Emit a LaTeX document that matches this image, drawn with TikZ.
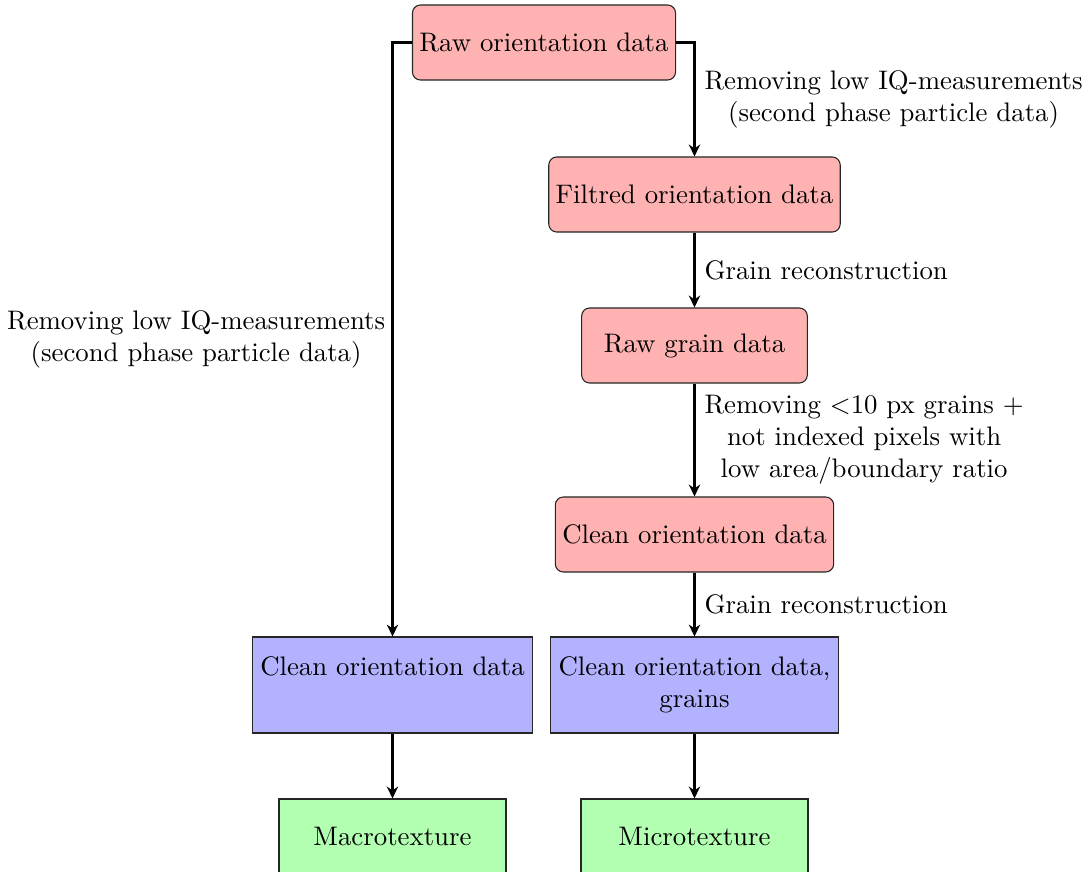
\documentclass[tikz,border=0pt]{standalone}
\usetikzlibrary{arrows.meta}
\begin{document}
\begin{tikzpicture}[x=0.3731pt, y=-0.3731pt,
  redbox/.style={draw=black!85, fill=red!30, rounded corners=3pt, minimum height=28pt, minimum width=84.2pt, inner xsep=2.6pt, inner ysep=3.33pt},
  bluebox/.style={draw=black!85, fill=blue!30, minimum height=35.8pt, align=center, inner xsep=3pt, inner ysep=3.33pt},
  greenbox/.style={draw=black!85, fill=green!30, minimum height=28pt, minimum width=84.7pt},
  conn/.style={-{Stealth[length=4.4pt, width=4.2pt, inset=1.4pt]}, thick},
  lbl/.style={align=center, font=\normalsize}]
\useasboundingbox (0,0) rectangle (1092,872);
\node[redbox] (raw) at (544,42.5) {Raw orientation data};
\node[redbox] (filt) at (694.5,194.5) {Filtred orientation data};
\node[redbox] (rgrain) at (694.5,345.5) {Raw grain data};
\node[redbox] (clean) at (694.5,534.5) {Clean orientation data};
\node[bluebox] (cleanL) at (392.5,685) {Clean orientation data\\\vphantom{grains}};
\node[bluebox] (cleanR) at (694.5,685) {Clean orientation data,\\grains};
\node[greenbox] (macro) at (392.5,836.5) {Macrotexture};
\node[greenbox] (micro) at (694.5,836.5) {Microtexture};
\draw[conn] (raw.east) -| node[pos=0.75, anchor=west, lbl] {Removing low IQ-measurements\\(second phase particle data)} (filt.north);
\draw[conn] (raw.west) -| node[pos=0.75, anchor=east, lbl, xshift=1pt] {Removing low IQ-measurements\\(second phase particle data)} (cleanL.north);
\draw[conn] (filt) -- node[anchor=west, lbl] {Grain reconstruction} (rgrain);
\draw[conn] (rgrain) -- node[anchor=west, lbl] {Removing $<$10 px grains +\\not indexed pixels with\\low area/boundary ratio} (clean);
\draw[conn] (clean) -- node[anchor=west, lbl] {Grain reconstruction} (cleanR);
\draw[conn] (cleanL) -- (macro);
\draw[conn] (cleanR) -- (micro);
\end{tikzpicture}
\end{document}
